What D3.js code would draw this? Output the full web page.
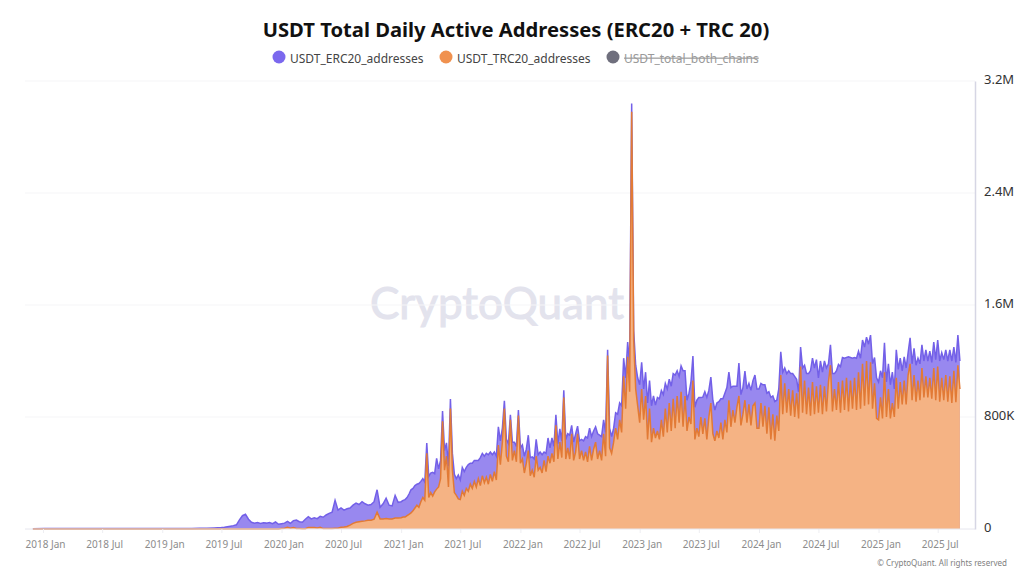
<!DOCTYPE html>
<html lang="en">
<head>
<meta charset="utf-8">
<title>USDT Total Daily Active Addresses</title>
<script src="https://d3js.org/d3.v7.min.js"></script>
<style type="text/css">
  html, body { margin: 0; padding: 0; background: #fff; }
  svg { display: block; font-family: "Noto Sans", sans-serif; }
</style>
</head>
<body>
<svg></svg>
<script type="text/javascript">

const chartTitle = "USDT Total Daily Active Addresses (ERC20 + TRC 20)";
const seriesNames = ["USDT_ERC20_addresses", "USDT_TRC20_addresses", "USDT_total_both_chains"];
const xTickDates = ["2018-01-01","2018-07-01","2019-01-01","2019-07-01","2020-01-01","2020-07-01","2021-01-01","2021-07-01","2022-01-01","2022-07-01","2023-01-01","2023-07-01","2024-01-01","2024-07-01","2025-01-01","2025-07-01"];
const xTickLabels = ["2018 Jan","2018 Jul","2019 Jan","2019 Jul","2020 Jan","2020 Jul","2021 Jan","2021 Jul","2022 Jan","2022 Jul","2023 Jan","2023 Jul","2024 Jan","2024 Jul","2025 Jan","2025 Jul"];
const yTicks = [0, 800, 1600, 2400, 3200];
const yTickLabels = ["0", "800K", "1.6M", "2.4M", "3.2M"];

// each period runs up to the start of the next one
const periodStarts = ["2017-12-01","2018-07-01","2019-01-01","2019-07-01","2020-01-01","2020-07-01","2021-01-01","2021-07-01","2022-01-01","2022-07-01","2023-01-01","2023-07-01","2024-01-01","2024-07-01","2025-01-01","2025-07-01"];
const lastDate = "2025-09-07";

// thousands of addresses, one row per period
const trcAddresses = [
  [0,0,0,0,0,0],
  [0,0,0,0],
  [0,0,0,0,0,0,0,0],
  [0,0,0,0,0,0,0,0,0,0,0,0,0,0,0,0,0,0,0,0],
  [3,6,12,6,10,4,3,2,2,10,10,10,8,12,3,3,3,3,5,5],
  [12,14,18,28,40,48,52,55,58,62,62,70,120,72,72,75,72,72,78,78],
  [80,85,85,95,105,115,130,150,170,155,195,225,205,540,225,260,235,265,285,300,360,770,420,520,300,860,420,260,240,215],
  [210,270,240,290,270,320,290,340,300,360,310,380,330,370,320,390,340,410,350,600,460,620,860,520,480,780,490,560,480,810],
  [470,500,400,470,560,380,420,370,520,420,440,400,490,410,520,470,540,480,740,500,620,510,940,500,580,500,680,490,550,680],
  [500,560,490,550,480,590,490,570,620,500,560,490,680,520,1240,580,540,620,720,640,780,690,1090,860,1230,980,2980,1350,1000,880],
  [760,1000,780,950,640,860,620,720,650,700,640,780,660,860,690,900,700,930,720,950,760,980,730,950,700,800,750,1060,640,720],
  [660,800,680,790,640,800,900,680,630,700,650,760,640,780,690,920,730,850,760,870,950,740,820,920,760,890,740,880,900,720],
  [720,900,730,880,680,870,640,820,630,810,700,1100,820,1040,830,1000,810,990,800,970,790,1160,830,1060,820,1010,810,1050,820,1020],
  [830,1030,820,1020,840,1050,1170,840,1000,850,1050,830,1060,850,1080,840,1060,860,1080,850,1120,860,1180,880,1200,890,1190,860,1040,790],
  [780,940,790,1120,800,1000,790,900,800,1080,860,1050,890,1060,890,1100,1180,920,1100,910,1060,920,1150,940,1090,940,1080,930,1150,920],
  [1160,910,1080,920,1100,910,1090,900,1130,905,1170,1000]
];
const ercAddresses = [
  [2,3,3,3,3,3],
  [3,3,3,3],
  [3,3,3,4,4,5,6,8],
  [10,12,16,20,24,30,65,95,105,70,48,42,46,40,44,42,46,38,50,34],
  [35,36,43,34,50,60,49,46,68,78,62,70,66,78,81,97,109,117,200,130],
  [138,121,127,122,130,137,123,140,122,108,113,125,160,83,108,145,98,93,162,112],
  [115,120,125,130,145,165,160,160,150,170,145,135,130,74,150,140,170,130,220,130,130,72,140,95,150,68,120,130,120,170],
  [140,170,170,150,190,150,180,150,190,130,200,160,190,170,210,160,190,140,170,130,170,100,55,120,130,35,130,60,110,40],
  [110,100,120,100,110,130,95,130,120,110,110,130,60,130,130,110,110,110,75,110,95,120,50,140,100,170,60,130,130,55],
  [130,80,140,110,170,130,170,130,110,180,110,170,100,170,40,140,120,100,110,180,120,190,130,220,105,200,60,70,170,200],
  [270,190,220,170,260,200,260,230,235,240,290,210,300,180,310,170,320,180,380,180,330,185,400,180,220,170,300,175,230,200],
  [280,140,262,190,300,190,185,240,220,200,260,170,290,190,320,200,280,170,260,150,235,220,190,208,240,150,250,180,200,280],
  [280,140,300,150,290,110,300,130,280,110,300,165,300,110,280,130,300,120,290,100,190,140,320,110,290,100,320,170,330,190],
  [250,170,300,180,310,130,145,270,110,280,125,330,165,370,145,390,165,360,145,370,150,360,170,420,170,430,195,320,185,290],
  [270,190,290,210,250,180,240,220,200,200,280,170,240,170,260,160,185,260,190,260,160,260,165,260,190,260,190,260,185,290],
  [190,290,180,290,180,290,190,300,170,285,215,200]
];

const w = 1032;
const h = 581;
const parseDay = d3.utcParse("%Y-%m-%d");

// spread each row's values evenly over its period
const rows = [];
periodStarts.forEach((start, p) => {
  const t0 = parseDay(start).getTime();
  const t1 = parseDay(p < periodStarts.length - 1 ? periodStarts[p + 1] : lastDate).getTime();
  const n = trcAddresses[p].length;
  trcAddresses[p].forEach((trc, i) => {
    rows.push({ date: new Date(t0 + (t1 - t0) * i / (p < periodStarts.length - 1 ? n : n - 1)), trc: trc, erc: ercAddresses[p][i] });
  });
});

const x = d3.scaleUtc()
  .domain([parseDay("2018-01-01"), parseDay("2025-07-01")])
  .range([43, 937.7]);
const y = d3.scaleLinear().domain([0, 3200]).range([529, 81]);

const svg = d3.select("svg").attr("width", w).attr("height", h);

// title
svg.append("text")
  .attr("x", 516).attr("y", 37)
  .attr("text-anchor", "middle")
  .attr("font-size", 20.2).attr("font-weight", 700).attr("fill", "#111")
  .text(chartTitle);

// legend
const legendX = [279, 446, 613];
const legendColors = ["#7b68ee", "#f0914f", "#6f6f7d"];
seriesNames.forEach((name, i) => {
  svg.append("circle")
    .attr("cx", legendX[i]).attr("cy", 57).attr("r", 6.5)
    .attr("fill", legendColors[i]);
  svg.append("text")
    .attr("x", legendX[i] + 11).attr("y", 62.5)
    .attr("font-size", 12)
    .attr("fill", i === 2 ? "#9a9a9a" : "#444")
    .attr("text-decoration", i === 2 ? "line-through" : null)
    .text(name);
});

// watermark sits behind the marks
svg.append("text")
  .attr("x", 497).attr("y", 319)
  .attr("text-anchor", "middle")
  .attr("font-size", 44).attr("font-family", "Lato, 'Noto Sans', sans-serif")
  .attr("fill", "#e3e3ed").attr("stroke", "#e3e3ed").attr("stroke-width", 1)
  .text("CryptoQuant");

// grid
svg.append("g").selectAll("line")
  .data(yTicks.slice(1))
  .enter().append("line")
  .attr("x1", 25).attr("x2", 975)
  .attr("y1", d => y(d)).attr("y2", d => y(d))
  .attr("stroke", "#f5f5f7");

// stacked areas, TRC at the bottom with ERC above it
const stacked = d3.stack().keys(["trc", "erc"])(rows);
const topOf = key => stacked.find(s => s.key === key);

const areaFrom0 = d3.area()
  .x((d, i) => x(rows[i].date))
  .y0(y(0))
  .y1(d => y(d[1]));
const lineTop = d3.line()
  .x((d, i) => x(rows[i].date))
  .y(d => y(d[1]));

svg.append("path").attr("d", areaFrom0(topOf("erc"))).attr("fill", "#9888ef");
svg.append("path").attr("d", lineTop(topOf("erc")))
  .attr("fill", "none").attr("stroke", "#7360e8").attr("stroke-width", 1.5);
svg.append("path").attr("d", areaFrom0(topOf("trc"))).attr("fill", "#f5b384");
svg.append("path").attr("d", lineTop(topOf("trc")))
  .attr("fill", "none").attr("stroke", "#e27a35").attr("stroke-width", 1.5);

// axes
const xAxis = d3.axisBottom(x)
  .tickValues(xTickDates.map(parseDay))
  .tickSize(4)
  .tickFormat((d, i) => xTickLabels[i]);
const gx = svg.append("g").attr("transform", "translate(0,529)").call(xAxis);
gx.select(".domain").remove();
gx.append("line").attr("x1", 25).attr("x2", 975).attr("stroke", "#e6e6ee");
gx.selectAll(".tick line").attr("stroke", "#eeeef2");
gx.selectAll(".tick text")
  .attr("y", 12).attr("dx", 2)
  .attr("font-family", "'Noto Sans', sans-serif")
  .attr("font-size", 10).attr("fill", "#8c8c8c");

const yAxis = d3.axisRight(y)
  .tickValues(yTicks)
  .tickSize(0)
  .tickPadding(9)
  .tickFormat((d, i) => yTickLabels[i]);
const gy = svg.append("g").attr("transform", "translate(975,0)").call(yAxis);
gy.select(".domain").attr("stroke", "#d6d6e4").attr("stroke-width", 1.5);
gy.selectAll(".tick text")
  .attr("dy", "0.22em")
  .attr("font-family", "'Noto Sans', sans-serif")
  .attr("font-size", 13).attr("fill", "#333");

svg.append("text")
  .attr("x", 1007).attr("y", 566)
  .attr("text-anchor", "end")
  .attr("font-size", 8).attr("fill", "#808080")
  .text("© CryptoQuant. All rights reserved");

</script>
</body>
</html>
